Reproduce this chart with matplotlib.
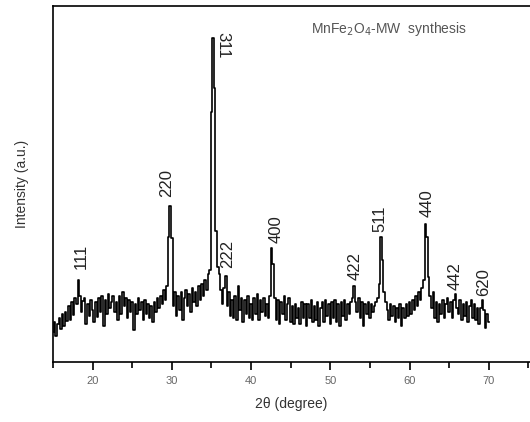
import numpy as np
import matplotlib.pyplot as plt

plt.rcParams['font.family'] = ['Liberation Sans', 'DejaVu Sans']

# scan grid 15..70 deg, 0.2 deg step
two_theta = np.round(np.arange(15.0, 70.01, 0.2), 1)

# intensity (a.u.)
intensity = [
    30, 40, 26, 38, 44, 33, 48, 36, 50, 41,     # 15-17
    56, 42, 60, 47, 64,                         # 17
    58, 82, 66, 50, 61,                         # 18
    64, 38, 58, 46, 62,
    52, 40, 60, 45, 64,                         # 20
    50, 66, 36, 62, 48,
    68, 54, 60, 66, 50,
    60, 42, 66, 48, 70,
    56, 64, 44, 62, 50,
    60, 32, 58, 48, 64,                         # 25
    52, 60, 42, 62, 48,
    58, 44, 56, 40, 60,
    50, 64, 54, 66, 58,
    72, 62, 76, 125, 156,                       # 29
    124, 56, 70, 46, 66,                        # 30
    52, 70, 42, 64, 72,
    56, 68, 50, 74, 60,
    70, 56, 76, 62, 78,
    66, 82, 72, 88, 92,                         # 34
    250, 324, 274, 131, 95,                     # 35
    88, 72, 58, 74, 86,
    56, 70, 46, 62, 44,
    66, 42, 76, 52, 64,
    40, 62, 48, 66, 44,
    58, 42, 64, 48, 68,                         # 40
    42, 62, 50, 64, 46,
    58, 44, 66, 114, 98,                        # 42
    64, 42, 62, 38, 60,
    48, 66, 42, 58, 64,
    40, 56, 38, 58, 44,                         # 45
    54, 38, 60, 44, 58,
    36, 58, 44, 62, 40,
    56, 42, 60, 36, 54,
    60, 40, 62, 46, 58,
    38, 60, 44, 62, 40,                         # 50
    58, 36, 60, 46, 62,
    42, 58, 48, 60, 64,
    76, 60, 50, 64, 44,                         # 53
    60, 36, 58, 48, 60,
    44, 58, 50, 56, 60,                         # 55
    64, 78, 125, 102, 70,                       # 56
    60, 52, 42, 58, 46,
    56, 40, 54, 44, 58,
    36, 54, 44, 58, 46,
    60, 48, 62, 52, 66,                         # 60
    56, 70, 62, 74, 82,
    138, 125, 85, 66, 54,                       # 62
    70, 44, 60, 40, 58,
    48, 62, 44, 58, 64,
    50, 60, 44, 62, 68,                         # 65
    54, 48, 62, 42, 58,
    46, 60, 40, 56, 62,
    44, 58, 42, 54, 38,
    54, 62, 52, 34, 48,
    40,                                         # 70
]
assert len(intensity) == len(two_theta)

# peak indices and where their labels sit
hkl = ['111', '220', '311', '222', '400', '422', '511', '440', '442', '620']
label_x = [18.6, 29.4, 36.4, 37.1, 43.2, 53.1, 56.3, 62.2, 65.8, 69.4]
label_y = [93, 165, 330, 94, 119, 82, 130, 145, 72, 66]

fig = plt.figure(figsize=(5.3, 4.22), dpi=100)
ax = fig.add_axes([0.1, 0.142, 0.9, 0.8436])

ax.plot(two_theta, intensity, color='black', lw=1.2, drawstyle='steps-mid')

for lab, x, y in zip(hkl, label_x, label_y):
    if lab == '311':
        ax.text(x, y, lab, rotation=-90, ha='center', va='top',
                fontsize=12, color='#222')
    else:
        ax.text(x, y, lab, rotation=90, ha='center', va='bottom',
                fontsize=12, color='#222')

ax.text(47.5, 333, 'MnFe$_2$O$_4$-MW  synthesis', fontsize=10,
        color='#555', va='center', ha='left')

ax.set_xlim(15.1, 75.2)
ax.set_ylim(0, 356)
ax.set_xticks([20, 30, 40, 50, 60, 70])
ax.set_xticks([15, 25, 35, 45, 55, 65, 75], minor=True)
ax.set_yticks([])
ax.tick_params(axis='x', which='major', direction='out', length=6, width=1.2,
               labelsize=8, labelcolor='#666', pad=4)
ax.tick_params(axis='x', which='minor', direction='out', length=4, width=1.2)
ax.spines['right'].set_visible(False)
for s in ['left', 'top', 'bottom']:
    ax.spines[s].set_linewidth(1.2)

ax.set_xlabel('2θ (degree)', fontsize=10, color='#333', labelpad=8)
ax.set_ylabel('Intensity (a.u.)', fontsize=10, color='#333', labelpad=17)

fig.savefig('out.png', dpi=100)
